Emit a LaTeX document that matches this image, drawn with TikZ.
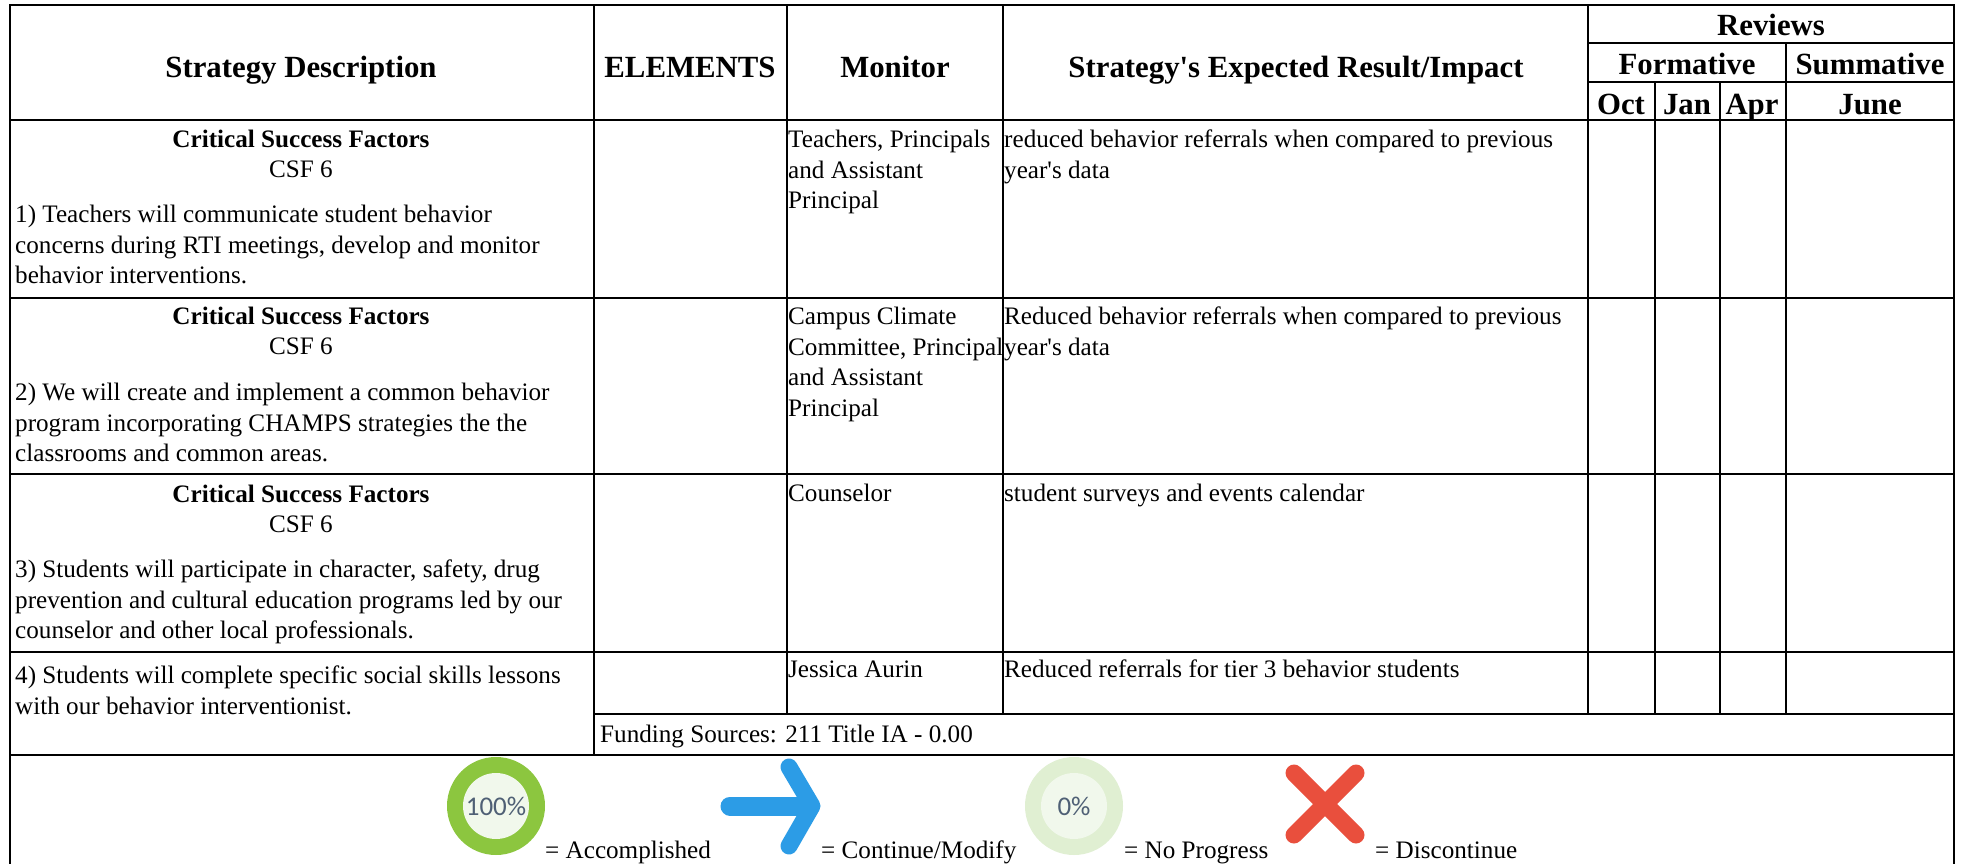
\documentclass[tikz,border=0pt]{standalone}
\usepackage{fontspec}
\setmainfont{Liberation Serif}[Ligatures=TeXOff]
\newfontfamily\iconfont{Carlito}
\definecolor{okgreen}{HTML}{8CC63F}
\definecolor{okinner}{HTML}{F1F8EC}
\definecolor{nogreen}{HTML}{E0EFD2}
\definecolor{arrowblue}{HTML}{2C9CE6}
\definecolor{xred}{HTML}{E94F3D}
\definecolor{pcttext}{HTML}{4F6075}
\tikzset{
  grid/.style={line width=2.6pt,black},
  body/.style={inner sep=0pt,font=\fontsize{25.15}{30.6}\selectfont,align=left,anchor=north west},
  ctr/.style={inner sep=0pt,font=\fontsize{25.15}{30.6}\selectfont,anchor=base},
  csf/.style={inner sep=0pt,font=\fontsize{25.15}{30.6}\selectfont\bfseries,anchor=base},
  head/.style={inner sep=0pt,font=\fontsize{30.8}{36}\selectfont\bfseries,anchor=base},
  key/.style={inner sep=0pt,font=\fontsize{25.15}{30.6}\selectfont,anchor=base west},
  pct/.style={inner sep=0pt,font=\fontsize{27}{30}\iconfont,text=pcttext},
}
\begin{document}
\begin{tikzpicture}[x=1pt,y=-1pt]
\useasboundingbox (0,0) rectangle (1961,864);
\fill[white] (0,0) rectangle (1961,864);
% table rules
\draw[grid] (10,864) -- (10,5) -- (1954,5) -- (1954,864);
\draw[grid] (10,120) -- (1954,120);
\draw[grid] (10,298) -- (1954,298);
\draw[grid] (10,474) -- (1954,474);
\draw[grid] (10,652) -- (1954,652);
\draw[grid] (594,714) -- (1954,714);
\draw[grid] (10,755) -- (1954,755);
\draw[grid] (594,5) -- (594,755);
\draw[grid] (787,5) -- (787,714);
\draw[grid] (1003,5) -- (1003,714);
\draw[grid] (1588,5) -- (1588,714);
\draw[grid] (1655,82) -- (1655,714);
\draw[grid] (1720,82) -- (1720,714);
\draw[grid] (1786,43) -- (1786,714);
\draw[grid] (1588,43) -- (1954,43);
\draw[grid] (1588,82) -- (1954,82);
% header
\node[head] (hdesc) at (301,78) {Strategy Description};
\node[head] (helem) at (690,78) {ELEMENTS};
\node[head] (hmon) at (895,78) {Monitor};
\node[head] (himp) at (1296,78) {Strategy's Expected Result/Impact};
\node[head] (hrev) at (1771,36) {Reviews};
\node[head] (hform) at (1687,75) {Formative};
\node[head] (hsum) at (1870,75) {Summative};
\node[head] (hoct) at (1621,114) {Oct};
\node[head] (hjan) at (1687,114) {Jan};
\node[head] (hapr) at (1752,114) {Apr};
\node[head] (hjun) at (1870,114) {June};
% row 1
\node[csf] (c1) at (301,147) {Critical Success Factors};
\node[ctr] (f1) at (301,177) {CSF 6};
\node[body] (s1) at (15,201) {\strut 1) Teachers will communicate student behavior\\concerns during RTI meetings, develop and monitor\\behavior interventions.\strut};
\node[body] (m1) at (788,126) {\strut Teachers, Principals\\and Assistant\\Principal\strut};
\node[body] (r1) at (1004,126) {\strut reduced behavior referrals when compared to previous\\year's data\strut};
% row 2
\node[csf] (c2) at (301,324) {Critical Success Factors};
\node[ctr] (f2) at (301,354) {CSF 6};
\node[body] (s2) at (15,379) {\strut 2) We will create and implement a common behavior\\program incorporating CHAMPS strategies the the\\classrooms and common areas.\strut};
\node[body] (m2) at (788,303) {\strut Campus Climate\\Committee, Principal\\and Assistant\\Principal\strut};
\node[body] (r2) at (1004,303) {\strut Reduced behavior referrals when compared to previous\\year's data\strut};
% row 3
\node[csf] (c3) at (301,502) {Critical Success Factors};
\node[ctr] (f3) at (301,532) {CSF 6};
\node[body] (s3) at (15,556) {\strut 3) Students will participate in character, safety, drug\\prevention and cultural education programs led by our\\counselor and other local professionals.\strut};
\node[body] (m3) at (788,480) {\strut Counselor\strut};
\node[body] (r3) at (1004,480) {\strut student surveys and events calendar\strut};
% row 4
\node[body] (s4) at (15,662) {\strut 4) Students will complete specific social skills lessons\\with our behavior interventionist.\strut};
\node[body] (m4) at (788,656) {\strut Jessica Aurin\strut};
\node[body] (r4) at (1004,656) {\strut Reduced referrals for tier 3 behavior students\strut};
\node[body] (fund) at (600,721) {\strut Funding Sources: 211 Title IA - 0.00\strut};
% key icons
\fill[okgreen] (496,806) circle[radius=49];
\fill[okinner] (496,806) circle[radius=33];
\node[pct] (p100) at (496,806) {100\%};
\node[key] (k1) at (545,858) {= Accomplished};
\draw[arrowblue,line width=19pt,line cap=round] (730,806) -- (810,806);
\draw[arrowblue,line width=17pt,line cap=round,line join=round] (789,767) -- (812,806) -- (789,846);
\node[key] (k2) at (821,858) {= Continue/Modify};
\fill[nogreen] (1074,806) circle[radius=49];
\fill[okinner] (1074,806) circle[radius=33];
\node[pct] (p0) at (1074,806) {0\%};
\node[key] (k3) at (1124,858) {= No Progress};
\draw[xred,line width=17pt,line cap=round] (1294,773) -- (1356,835);
\draw[xred,line width=17pt,line cap=round] (1356,773) -- (1294,835);
\node[key] (k4) at (1375,858) {= Discontinue};
\end{tikzpicture}
\end{document}
